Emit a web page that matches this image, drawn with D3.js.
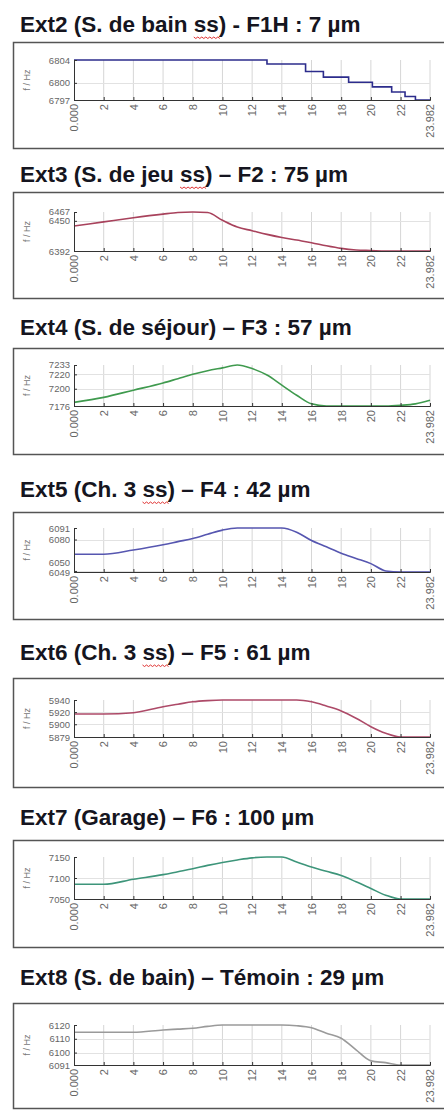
<!DOCTYPE html>
<html>
<head>
<meta charset="utf-8">
<script src="https://cdn.jsdelivr.net/npm/d3@7/dist/d3.min.js"></script>
<style>
  body { margin: 0; background: #fff; }
  text { font-family: "Liberation Sans", Arial, sans-serif; }
</style>
</head>
<body>
<div id="chart"></div>
<script>
// Titres des panneaux
const titles = [
  'Ext2 (S. de bain ss) - F1H : 7 µm',
  'Ext3 (S. de jeu ss) – F2 : 75 µm',
  'Ext4 (S. de séjour) – F3 : 57 µm',
  'Ext5 (Ch. 3 ss)  – F4 : 42 µm',
  'Ext6 (Ch. 3 ss)  – F5 : 61 µm',
  'Ext7 (Garage) – F6 : 100 µm',
  'Ext8 (S. de bain) – Témoin : 29 µm'
];

// Graduations
const xTicks = [0, 2, 4, 6, 8, 10, 12, 14, 16, 18, 20, 22, 23.982];
const yTicks = [
  [6797, 6800, 6804],
  [6392, 6450, 6467],
  [7176, 7200, 7220, 7233],
  [6049, 6050, 6080, 6091],
  [5879, 5900, 5920, 5940],
  [7050, 7100, 7150],
  [6091, 6100, 6110, 6120]
];

// Ext2 : courbe en escalier
const ext2Time = [0, 13.0, 15.6, 16.8, 18.5, 20.1, 21.4, 22.3, 23.0, 23.982];
const ext2Freq = [6804, 6803.3, 6802, 6801, 6800.1, 6799.3, 6798.4, 6797.6, 6797, 6797];

// Ext3 à Ext8 : mêmes instants
const hours = [0, 2, 4, 6, 7, 8, 9, 10, 11, 12, 13, 14, 15, 16, 17, 18, 19, 20, 21, 22, 23, 23.982];
const ext3Freq = [6440, 6448, 6456, 6463, 6466, 6467, 6466, 6451, 6438, 6431, 6424, 6418, 6413, 6408, 6402, 6397, 6394, 6393, 6392, 6392, 6392, 6392];
const ext4Freq = [7181, 7188, 7198, 7208, 7214, 7220, 7225, 7229, 7233, 7228, 7219, 7205, 7191, 7179, 7176, 7176, 7176, 7176, 7176, 7177, 7179, 7184];
const ext5Freq = [6066, 6066, 6070, 6075, 6078, 6081, 6085, 6089, 6091, 6091, 6091, 6091, 6087, 6079, 6073, 6067, 6062, 6057, 6050, 6049, 6049, 6049];
const ext6Freq = [5917, 5917, 5919, 5929, 5933, 5937, 5939, 5940, 5940, 5940, 5940, 5940, 5940, 5937, 5930, 5922, 5910, 5896, 5885, 5879, 5879, 5879];
const ext7Freq = [7085, 7085, 7097, 7108, 7115, 7122, 7130, 7137, 7143, 7148, 7150, 7150, 7138, 7126, 7116, 7106, 7091, 7075, 7059, 7050, 7050, 7050];
const ext8Freq = [6114.7, 6114.7, 6114.7, 6116.4, 6117, 6117.6, 6119, 6120, 6120, 6120, 6120, 6120, 6119.5, 6118, 6114, 6110.4, 6102, 6094, 6092.7, 6091, 6091, 6091];

const series = [
  { t: ext2Time, v: ext2Freq, step: true },
  { t: hours, v: ext3Freq },
  { t: hours, v: ext4Freq },
  { t: hours, v: ext5Freq },
  { t: hours, v: ext6Freq },
  { t: hours, v: ext7Freq },
  { t: hours, v: ext8Freq }
];

const colors = ['#2c2c8c', '#a8425c', '#3f9a4e', '#5656b0', '#ad4a68', '#3d957a', '#9a9a9a'];

// Mise en page
const width = 444, height = 1110;
const titleY = [32, 182, 335, 497, 660, 825, 985];
const boxTop = [42, 192, 348, 512, 678, 840, 1003];
const boxBottom = [148, 298, 454, 619, 787, 947, 1108];
const plotTop = [60, 212, 365, 528, 700, 857, 1025];
const plotBottom = [100, 251, 406, 572, 737, 899, 1065];
const x0 = 74, x1 = 430;

const svg = d3.select('#chart')
  .append('svg')
  .attr('width', width)
  .attr('height', height);

const xScale = d3.scaleLinear().domain([0, 23.982]).range([x0, x1]);

titles.forEach((title, i) => {
  const g = svg.append('g');

  // titre
  const tt = g.append('text')
    .attr('x', 20)
    .attr('y', titleY[i])
    .attr('font-size', 22.5)
    .attr('font-weight', 'bold')
    .attr('fill', '#151520')
    .text(title);

  // soulignement rouge du correcteur
  const k = title.indexOf('ss)');
  if (k >= 0) {
    const node = tt.node();
    const sx = node.getStartPositionOfChar(k).x;
    const sw = node.getSubStringLength(k, 2);
    let d = `M${sx},${titleY[i] + 5}`;
    for (let p = 0; p < sw; p += 2) {
      d += ` L${sx + p + 2},${titleY[i] + 5 + ((p / 2) % 2 === 0 ? 1.5 : 0)}`;
    }
    g.append('path').attr('d', d).attr('fill', 'none')
      .attr('stroke', '#e03030').attr('stroke-width', 1);
  }

  // cadre
  g.append('rect')
    .attr('x', 13.5)
    .attr('y', boxTop[i] + 0.5)
    .attr('width', 450)
    .attr('height', boxBottom[i] - boxTop[i])
    .attr('fill', 'none')
    .attr('stroke', '#555')
    .attr('stroke-width', 1.5);

  const ticks = yTicks[i];
  const yScale = d3.scaleLinear()
    .domain([d3.min(ticks), d3.max(ticks)])
    .range([plotBottom[i], plotTop[i]]);

  // grille
  g.append('g').selectAll('line.v')
    .data(xTicks.slice(1))
    .enter().append('line')
    .attr('x1', d => xScale(d)).attr('x2', d => xScale(d))
    .attr('y1', plotTop[i]).attr('y2', plotBottom[i])
    .attr('stroke', '#d6d6d6').attr('stroke-width', 1);
  g.append('g').selectAll('line.h')
    .data(ticks.slice(1, -1))
    .enter().append('line')
    .attr('x1', x0).attr('x2', x1)
    .attr('y1', d => Math.round(yScale(d)) + 0.5).attr('y2', d => Math.round(yScale(d)) + 0.5)
    .attr('stroke', '#e2e2e2').attr('stroke-width', 1);

  // courbe
  const pts = series[i].t.map((t, j) => [t, series[i].v[j]]);
  const line = d3.line()
    .x(d => xScale(d[0]))
    .y(d => yScale(d[1]))
    .curve(series[i].step ? d3.curveStepAfter : d3.curveMonotoneX);
  g.append('path')
    .datum(pts)
    .attr('d', line)
    .attr('fill', 'none')
    .attr('stroke', colors[i])
    .attr('stroke-width', 1.6);

  // axe y
  const ya = g.append('g')
    .attr('transform', `translate(${x0},0)`)
    .call(d3.axisLeft(yScale).tickValues(ticks).tickFormat(d3.format('d')).tickSize(-3).tickPadding(4));
  ya.select('.domain').attr('stroke', '#333');
  ya.selectAll('.tick line').attr('stroke', '#333');
  // éviter le chevauchement des étiquettes
  let prev = Infinity;
  ya.selectAll('.tick').each(function (d) {
    const py = yScale(d);
    const ly = Math.min(py, prev - 9.5);
    d3.select(this).select('text').attr('y', ly - py);
    prev = ly;
  });
  ya.selectAll('text').attr('font-size', 9.5).attr('fill', '#666').attr('font-family', '"Liberation Sans", Arial, sans-serif');

  // titre de l'axe y
  g.append('text')
    .attr('transform', `translate(30,${(plotTop[i] + plotBottom[i]) / 2}) rotate(-90)`)
    .attr('text-anchor', 'middle')
    .attr('font-size', 9)
    .attr('fill', '#777')
    .text('f / Hz');

  // axe x
  const xa = g.append('g')
    .attr('transform', `translate(0,${plotBottom[i]})`)
    .call(d3.axisBottom(xScale).tickValues(xTicks)
      .tickFormat(d => d === 0 ? '0.000' : (d % 1 ? d3.format('.3f')(d) : d))
      .tickSize(-3));
  xa.select('.domain').attr('stroke', '#333');
  xa.selectAll('.tick line').attr('stroke', '#333');
  xa.selectAll('text')
    .attr('font-size', 11)
    .attr('fill', '#666')
    .attr('font-family', '"Liberation Sans", Arial, sans-serif')
    .attr('text-anchor', 'end')
    .attr('dy', '0.35em')
    .attr('transform', 'translate(0,4) rotate(-90)')
    .attr('y', 0)
    .attr('x', 0);
});
</script>
</body>
</html>
